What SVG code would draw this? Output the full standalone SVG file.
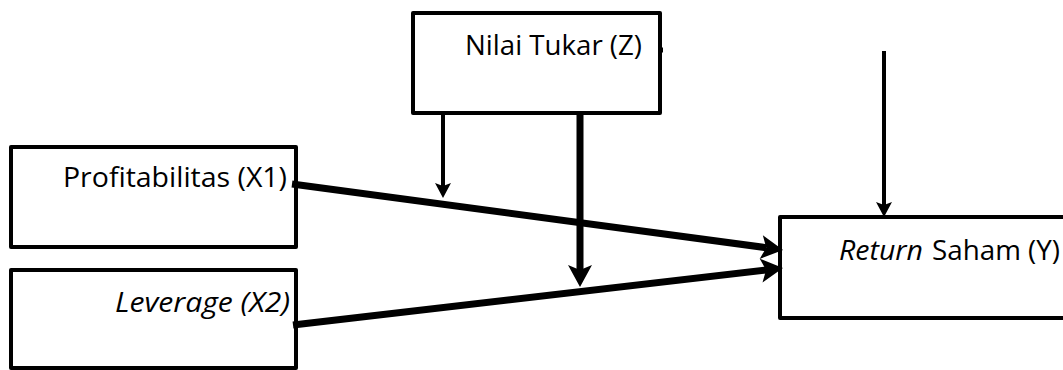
<svg xmlns="http://www.w3.org/2000/svg" width="1063" height="370" viewBox="0 0 1063 370">
  <style>
    .box { fill: #ffffff; stroke: #000000; stroke-width: 4; stroke-linejoin: round; }
    .lbl { font-family: "Open Sans", "Liberation Sans", sans-serif; font-size: 28px; fill: #000000; }
    .it { font-style: italic; }
    .thick { stroke: #000000; stroke-width: 7; fill: none; }
    .thin { stroke: #000000; stroke-width: 4; fill: none; }
  </style>
  <defs>
    <marker id="headBig" markerUnits="userSpaceOnUse" markerWidth="40" markerHeight="40" refX="0" refY="0" orient="auto" overflow="visible" viewBox="-10 -20 40 40">
      <path d="M0,0 L-5,-12 L17,0 L-5,12 Z" fill="#000000"/>
    </marker>
    <marker id="headSmall" markerUnits="userSpaceOnUse" markerWidth="30" markerHeight="30" refX="0" refY="0" orient="auto" overflow="visible" viewBox="-10 -15 30 30">
      <path d="M0,0 L-3,-8 L12,0 L-3,8 Z" fill="#000000"/>
    </marker>
  </defs>
  <rect width="1063" height="370" fill="#ffffff"/>

  <g id="node-nilai-tukar">
    <rect class="box" x="413" y="13" width="247" height="100"/>
    <line x1="660" y1="50" x2="663" y2="50" stroke="#000" stroke-width="5"/>
    <text class="lbl" x="465" y="55" textLength="177" lengthAdjust="spacingAndGlyphs">Nilai Tukar (Z)</text>
  </g>

  <g id="node-profitabilitas">
    <rect class="box" x="11" y="147" width="285" height="100"/>
    <text class="lbl" x="63" y="187" textLength="224" lengthAdjust="spacingAndGlyphs">Profitabilitas (X1)</text>
  </g>

  <g id="node-leverage">
    <rect class="box" x="11" y="270" width="285" height="98"/>
    <text class="lbl it" x="115" y="312" textLength="175" lengthAdjust="spacingAndGlyphs">Leverage (X2)</text>
  </g>

  <g id="node-return">
    <rect class="box" x="780" y="217" width="300" height="101"/>
    <text class="lbl" x="839" y="260"><tspan class="it" textLength="84" lengthAdjust="spacingAndGlyphs">Return</tspan><tspan x="932" textLength="128" lengthAdjust="spacingAndGlyphs">Saham (Y)</tspan></text>
  </g>

  <g id="connectors">
    <line class="thick" x1="292" y1="184" x2="766.2" y2="247.7" marker-end="url(#headBig)"/>
    <line class="thick" x1="293" y1="325" x2="766.1" y2="270" marker-end="url(#headBig)"/>
    <line class="thick" x1="580" y1="113" x2="580" y2="270" marker-end="url(#headBig)"/>
    <line class="thin" x1="443" y1="113" x2="443" y2="186" marker-end="url(#headSmall)"/>
    <line class="thin" x1="884" y1="51" x2="884" y2="205" marker-end="url(#headSmall)"/>
  </g>
</svg>
